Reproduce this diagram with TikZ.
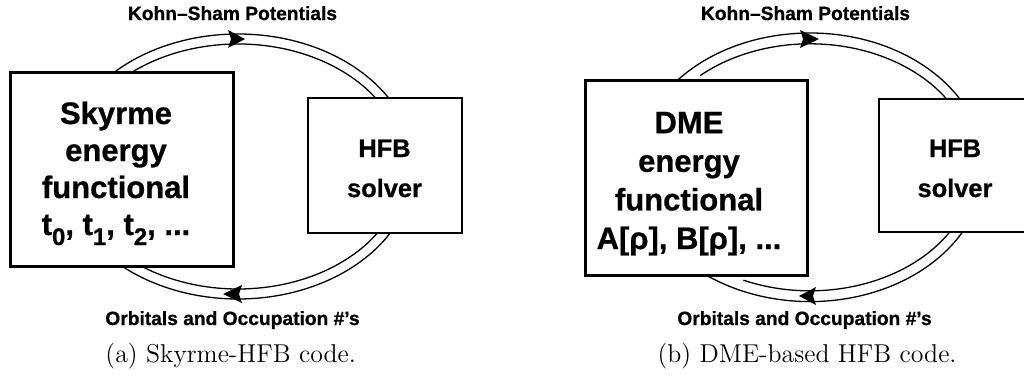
\documentclass[tikz,border=0pt]{standalone}
\usepackage{fontspec}
\newfontfamily\hv{Liberation Sans Bold}[FakeBold=0.8]
\newcommand{\sbt}[1]{{\fontsize{12}{12}\selectfont\raisebox{-5pt}{#1}}}
\begin{document}
\begin{tikzpicture}[x=0.5pt,y=0.5pt,
  box/.style={draw, fill=white, line width=1.4pt, inner sep=0pt},
  hfbbox/.style={draw, fill=white, line width=1pt, inner sep=0pt, minimum width=77pt, minimum height=67.5pt},
  arcline/.style={line width=0.65pt},
  head/.style={fill=black, draw=none},
  lbl/.style={font=\hv\fontsize{9.6}{11}\selectfont, anchor=base, inner sep=0pt},
  big/.style={font=\hv\fontsize{15.5}{18.5}\selectfont, anchor=base, align=center, inner sep=0pt},
  mid/.style={font=\hv\fontsize{12.7}{20}\selectfont, anchor=base, align=center, inner sep=0pt},
  captxt/.style={font=\fontsize{12.9}{15}\selectfont, anchor=base, inner sep=0pt}
]
\useasboundingbox (0,0) rectangle (1024,-381);
% ---------- left panel ----------
\coordinate (CL) at (238,-166.5);
\draw[arcline] (CL) ++(141:88pt and 66.25pt) arc[start angle=141, end angle=25, x radius=88pt, y radius=66.25pt];
\draw[arcline] (CL) ++(145:83pt and 61.25pt) arc[start angle=145, end angle=25, x radius=83pt, y radius=61.25pt];
\draw[arcline] (CL) ++(-25:88pt and 66.25pt) arc[start angle=-25, end angle=-138, x radius=88pt, y radius=66.25pt];
\draw[arcline] (CL) ++(-25:83pt and 61.25pt) arc[start angle=-25, end angle=-130, x radius=83pt, y radius=61.25pt];
\fill[head] (228,-30) -- (245,-39) -- (228,-48) -- (231,-39) -- cycle;
\fill[head] (242,-285) -- (223,-294) -- (242,-303) -- (239,-294) -- cycle;
\node[box, minimum width=111.5pt, minimum height=97pt] (L) at (122,-169.5) {};
\node[hfbbox] (LH) at (384.5,-165) {};
\node[big] (Lt) at (116,-235) {Skyrme\\energy\\functional\\t\sbt{0}, t\sbt{1}, t\sbt{2}, ...};
\node[mid] (LHt) at (384.5,-197) {HFB\\solver};
\node[lbl] (Lk) at (232.5,-20) {Kohn–Sham Potentials};
\node[lbl] (Lo) at (232.5,-325) {Orbitals and Occupation \#’s};
\node[captxt] (Lc) at (230.7,-362) {(a) Skyrme-HFB code.};
% ---------- right panel ----------
\coordinate (CR) at (810,-167.3);
\draw[arcline] (CR) ++(141:87pt and 67.15pt) arc[start angle=141, end angle=25, x radius=87pt, y radius=67.15pt];
\draw[arcline] (CR) ++(132:82pt and 61.75pt) arc[start angle=132, end angle=25, x radius=82pt, y radius=61.75pt];
\draw[arcline] (CR) ++(-25:87pt and 67.15pt) arc[start angle=-25, end angle=-138, x radius=87pt, y radius=67.15pt];
\draw[arcline] (CR) ++(-25:82pt and 61.75pt) arc[start angle=-25, end angle=-114, x radius=82pt, y radius=61.75pt];
\fill[head] (800,-30) -- (819,-39) -- (800,-48) -- (803,-39) -- cycle;
\fill[head] (816,-287) -- (799,-296) -- (816,-305) -- (813,-296) -- cycle;
\node[box, minimum width=111pt, minimum height=97.5pt] (R) at (696.5,-178) {};
\node[hfbbox, minimum width=76pt, minimum height=66.5pt] (RH) at (955,-165.5) {};
\node[big, font=\hv\fontsize{15.5}{19.3}\selectfont] (Rt) at (689,-249) {DME\\energy\\functional\\A[ρ], B[ρ], ...};
\node[mid] (RHt) at (955,-197) {HFB\\solver};
\node[lbl] (Rk) at (805.5,-20) {Kohn–Sham Potentials};
\node[lbl] (Ro) at (804.5,-325) {Orbitals and Occupation \#’s};
\node[captxt] (Rc) at (807,-362) {(b) DME-based HFB code.};
\end{tikzpicture}
\end{document}
